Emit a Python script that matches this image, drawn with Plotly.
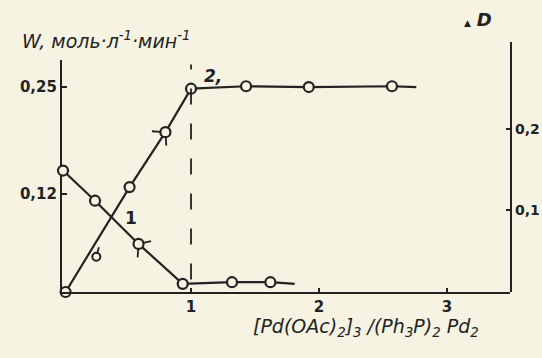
import plotly.graph_objects as go

# Ratio [Pd(OAc)2]3 / (Ph3P)2Pd2
# Curve 2: reaction rate W, mol/(l*min)
w_x = [0.02, 0.52, 0.80, 1.00, 1.43, 1.92, 2.57]
w_y = [0.0, 0.128, 0.195, 0.248, 0.251, 0.250, 0.251]
w_line_end = (2.76, 0.250)
# extra measured point off the line
w_extra_x = [0.26]
w_extra_y = [0.043]

# Curve 1: optical density D
d_x = [0.0, 0.25, 0.59, 0.935, 1.32, 1.62]
d_y = [0.149, 0.112, 0.059, 0.010, 0.012, 0.012]
d_line_end = (1.81, 0.010)

x_ticks = [1, 2, 3]
w_ticks = [0.12, 0.25]
d_ticks = [0.1, 0.2]

INK = "#222222"
PAPER = "#f6f3e3"

fig = go.Figure()

# lines
fig.add_trace(go.Scatter(
    x=w_x + [w_line_end[0]], y=w_y + [w_line_end[1]],
    mode="lines", line=dict(color=INK, width=2.2),
    xaxis="x", yaxis="y", cliponaxis=False, showlegend=False))
fig.add_trace(go.Scatter(
    x=d_x + [d_line_end[0]], y=d_y + [d_line_end[1]],
    mode="lines", line=dict(color=INK, width=2.2),
    xaxis="x", yaxis="y2", cliponaxis=False, showlegend=False))

marker = dict(symbol="circle", size=10, color=PAPER,
              line=dict(color=INK, width=2.2))
fig.add_trace(go.Scatter(x=w_x, y=w_y, mode="markers", marker=marker,
                         xaxis="x", yaxis="y", cliponaxis=False,
                         showlegend=False))
fig.add_trace(go.Scatter(x=w_extra_x, y=w_extra_y, mode="markers",
                         marker=dict(symbol="circle", size=8, color=PAPER,
                                     line=dict(color=INK, width=2)),
                         xaxis="x", yaxis="y", cliponaxis=False,
                         showlegend=False))
fig.add_trace(go.Scatter(x=d_x, y=d_y, mode="markers", marker=marker,
                         xaxis="x", yaxis="y2", cliponaxis=False,
                         showlegend=False))

# dashed marker line at ratio = 1
fig.add_shape(type="line", xref="x", yref="paper", x0=1, x1=1,
              y0=0.05, y1=0.91,
              line=dict(color=INK, width=1.8, dash="16px,19px"))

tick_font = dict(family="DejaVu Sans", size=15, color=INK, weight="bold")

fig.update_layout(
    width=542, height=358,
    margin=dict(l=62, r=32, t=42, b=66, autoexpand=False),
    paper_bgcolor=PAPER, plot_bgcolor="rgba(0,0,0,0)",
    separators=", ",
    xaxis=dict(range=[-0.008, 3.492], showgrid=False, zeroline=False,
               showline=True, linecolor=INK, linewidth=2.2,
               tickvals=x_ticks, ticks="inside", ticklen=4,
               tickcolor=INK, tickwidth=2, tickfont=tick_font,
               anchor="y", automargin=False),
    yaxis=dict(domain=[0, 0.928], range=[0, 0.283], showgrid=False,
               zeroline=False, showline=True, linecolor=INK, linewidth=2.2,
               tickvals=w_ticks, tickformat=".2f", ticks="inside",
               ticklen=5, tickcolor=INK, tickwidth=1.5, tickfont=tick_font,
               anchor="x", automargin=False),
    yaxis2=dict(domain=[0, 1], range=[0, 0.3067], side="right",
                anchor="x", showgrid=False, zeroline=False, showline=True,
                linecolor=INK, linewidth=2.2, tickvals=d_ticks,
                tickformat=".1f", ticks="inside", ticklen=4, tickcolor=INK,
                tickwidth=1.5, automargin=False,
                tickfont=dict(family="DejaVu Sans", size=14, color=INK,
                              weight="bold")),
)

hand = dict(family="DejaVu Sans", color=INK)
fig.add_annotation(xref="paper", yref="paper", x=-0.094, y=1.008,
                   xanchor="left", yanchor="middle", showarrow=False,
                   text="<i>W, моль·л<sup>-1</sup>·мин<sup>-1</sup></i>",
                   font=dict(size=19, **hand))
fig.add_annotation(xref="paper", yref="paper", x=0.892, y=1.09,
                   xanchor="left", yanchor="middle", showarrow=False,
                   text="<span style='font-size:9px'>▲</span> <b><i>D</i></b>",
                   font=dict(size=18, **hand))
fig.add_annotation(xref="paper", yref="paper", x=0.679, y=-0.14,
                   xanchor="center", yanchor="middle", showarrow=False,
                   text="<i>[Pd(OAc)<sub>2</sub>]<sub>3</sub> /(Ph<sub>3</sub>P)"
                        "<sub>2</sub> Pd<sub>2</sub></i>",
                   font=dict(size=19, **hand))
# curve labels
fig.add_annotation(xref="x", yref="y", x=0.53, y=0.090, showarrow=False,
                   text="<b>1</b>", font=dict(size=17, **hand))
fig.add_annotation(xref="x", yref="y", x=1.17, y=0.263, showarrow=False,
                   text="<b><i>2,</i></b>", font=dict(size=17, **hand))

# small flag strokes attached to some of the points
def flag(x, y, yref, ax, ay, standoff=5):
    fig.add_annotation(xref="x", yref=yref, x=x, y=y, ax=ax, ay=ay,
                       text="", showarrow=True, arrowhead=0,
                       arrowwidth=1.8, arrowcolor=INK, standoff=standoff)

flag(w_x[2], w_y[2], "y", -15, -1)
flag(w_x[2], w_y[2], "y", 1, 15)
flag(d_x[2], d_y[2], "y2", 14, -3)
flag(d_x[2], d_y[2], "y2", -1, 15)
flag(w_extra_x[0], w_extra_y[0], "y", 3, -11, standoff=3)

fig.write_html("out.html")
